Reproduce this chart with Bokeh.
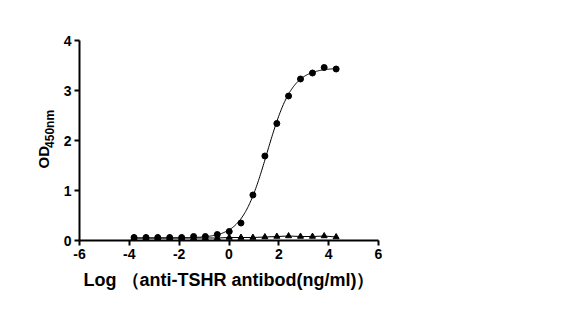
import numpy as np
from bokeh.plotting import figure
from bokeh.layouts import row
from bokeh.models import Range1d, Label, FixedTicker, CustomJSTickFormatter
from bokeh.embed import file_html
from bokeh.resources import INLINE

# log10 concentration (ng/ml), 3-fold dilutions
log_conc = [-3.81, -3.33, -2.86, -2.38, -1.90, -1.42, -0.95, -0.47, 0.01,
            0.48, 0.96, 1.44, 1.92, 2.39, 2.87, 3.35, 3.82, 4.30]
od_tshr = [0.06, 0.06, 0.06, 0.06, 0.06, 0.08, 0.08, 0.12, 0.18,
           0.35, 0.91, 1.69, 2.34, 2.89, 3.23, 3.35, 3.46, 3.43]
od_control = [0.05, 0.05, 0.05, 0.05, 0.05, 0.05, 0.05, 0.05, 0.06,
              0.06, 0.06, 0.07, 0.08, 0.09, 0.08, 0.08, 0.09, 0.07]
x_ticks = [-6, -4, -2, 0, 2, 4, 6]
y_ticks = [0, 1, 2, 3, 4]

# 4PL least-squares fit of the TSHR series (grid over EC50/hill, linear bottom/top)
xd = np.array(log_conc)
yd = np.array(od_tshr)
best = None
for ec in np.arange(0.8, 2.2, 0.005):
    for h in np.arange(0.4, 1.8, 0.005):
        s = 1.0 / (1.0 + 10 ** ((ec - xd) * h))
        A = np.vstack([1 - s, s]).T
        coef, *_ = np.linalg.lstsq(A, yd, rcond=None)
        r = np.sum((A @ coef - yd) ** 2)
        if best is None or r < best[0]:
            best = (r, ec, h, coef)
_, ec50, hill, (bottom, top) = best
xf = np.linspace(min(log_conc), max(log_conc), 300)
yf = bottom + (top - bottom) / (1.0 + 10 ** ((ec50 - xf) * hill))

LEFT_W = 58
p = figure(width=586 - LEFT_W, height=312, output_backend="svg", toolbar_location=None,
           x_range=Range1d(-6, 6), y_range=Range1d(0, 4),
           min_border_left=79 - LEFT_W, min_border_right=208, min_border_top=40,
           min_border_bottom=72)
p.outline_line_color = None
p.grid.grid_line_color = None
p.background_fill_color = "white"
p.border_fill_color = "white"

fmt = CustomJSTickFormatter(code="return String(tick);")
for ax in (p.xaxis[0], p.yaxis[0]):
    ax.axis_line_width = 2
    ax.axis_line_color = "black"
    ax.major_tick_line_width = 2
    ax.major_tick_line_color = "black"
    ax.major_tick_out = 5
    ax.major_tick_in = 0
    ax.minor_tick_line_color = None
    ax.major_label_text_font = "Liberation Sans"
    ax.major_label_text_font_style = "bold"
    ax.major_label_text_font_size = "14px"
    ax.major_label_text_color = "black"
    ax.major_label_standoff = 3
    ax.formatter = fmt

p.xaxis[0].ticker = FixedTicker(ticks=x_ticks)
p.yaxis[0].ticker = FixedTicker(ticks=y_ticks)
p.xaxis[0].axis_label = "Log \uff08anti-TSHR antibod(ng/ml)\uff09"
p.xaxis[0].axis_label_text_font = "Liberation Sans"
p.xaxis[0].axis_label_text_font_style = "bold"
p.xaxis[0].axis_label_text_font_size = "18px"
p.xaxis[0].axis_label_text_color = "black"
p.xaxis[0].axis_label_standoff = 8

p.line(xf, yf, line_color="black", line_width=1)
p.line(log_conc, od_control, line_color="black", line_width=1)
p.scatter(log_conc, od_control, marker="triangle", size=6, color="black")
p.scatter(log_conc, od_tshr, marker="circle", size=6, color="black")

# narrow side panel holding the y-axis title with its subscript
side = figure(width=LEFT_W, height=312, output_backend="svg", toolbar_location=None,
              x_range=Range1d(0, LEFT_W), y_range=Range1d(0, 312),
              x_axis_location=None, y_axis_location=None,
              min_border=0)
side.outline_line_color = None
side.grid.grid_line_color = None
side.add_layout(Label(x=43, y=130, text="OD", angle=np.pi / 2,
                      text_font="Liberation Sans", text_font_style="bold",
                      text_font_size="15px", text_color="black",
                      text_align="center", text_baseline="middle"))
side.add_layout(Label(x=49, y=174, text="450nm", angle=np.pi / 2,
                      text_font="Liberation Sans", text_font_style="bold",
                      text_font_size="12px", text_color="black",
                      text_align="center", text_baseline="middle"))

layout = row(side, p)
open("out.html", "w").write(file_html(layout, INLINE))
